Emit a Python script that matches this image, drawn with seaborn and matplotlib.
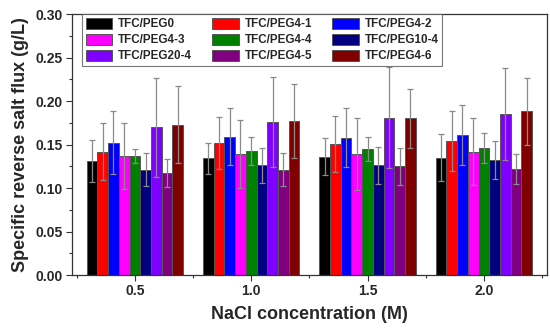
import pandas as pd
import matplotlib.pyplot as plt
import seaborn as sns
from matplotlib.ticker import MultipleLocator, AutoMinorLocator
from matplotlib.patches import Patch

# NaCl concentration (M)
conc = ['0.5', '1.0', '1.5', '2.0']
membranes = ['TFC/PEG0', 'TFC/PEG4-1', 'TFC/PEG4-2', 'TFC/PEG4-3', 'TFC/PEG4-4',
             'TFC/PEG10-4', 'TFC/PEG20-4', 'TFC/PEG4-5', 'TFC/PEG4-6']
colors = ['#000000', '#ff0000', '#0000ff', '#ff00ff', '#008000',
          '#000080', '#8000ff', '#800080', '#800000']

# specific reverse salt flux (g/L), one list per membrane, over conc
flux = {
    'TFC/PEG0':    [0.131, 0.134, 0.136, 0.135],
    'TFC/PEG4-1':  [0.142, 0.152, 0.151, 0.154],
    'TFC/PEG4-2':  [0.152, 0.159, 0.158, 0.161],
    'TFC/PEG4-3':  [0.137, 0.139, 0.139, 0.142],
    'TFC/PEG4-4':  [0.137, 0.143, 0.145, 0.146],
    'TFC/PEG10-4': [0.121, 0.126, 0.126, 0.132],
    'TFC/PEG20-4': [0.170, 0.176, 0.181, 0.185],
    'TFC/PEG4-5':  [0.117, 0.121, 0.125, 0.122],
    'TFC/PEG4-6':  [0.173, 0.177, 0.180, 0.188],
}
err = {
    'TFC/PEG0':    [0.024, 0.018, 0.021, 0.027],
    'TFC/PEG4-1':  [0.033, 0.030, 0.032, 0.034],
    'TFC/PEG4-2':  [0.036, 0.033, 0.034, 0.035],
    'TFC/PEG4-3':  [0.038, 0.039, 0.041, 0.039],
    'TFC/PEG4-4':  [0.008, 0.016, 0.014, 0.017],
    'TFC/PEG10-4': [0.019, 0.020, 0.021, 0.022],
    'TFC/PEG20-4': [0.057, 0.052, 0.058, 0.053],
    'TFC/PEG4-5':  [0.016, 0.019, 0.021, 0.017],
    'TFC/PEG4-6':  [0.044, 0.043, 0.034, 0.038],
}

rows = []
for m in membranes:
    for c, v in zip(conc, flux[m]):
        rows.append({'conc': c, 'membrane': m, 'flux': v})
df = pd.DataFrame(rows)

sns.set_style('ticks')
plt.rcParams['font.family'] = ['Liberation Sans', 'DejaVu Sans']
plt.rcParams['font.weight'] = 'bold'

fig = plt.figure(figsize=(5.5, 3.35), dpi=100)
ax = fig.add_axes([0.131, 0.179, 0.863, 0.779])

sns.barplot(data=df, x='conc', y='flux', hue='membrane', hue_order=membranes,
            palette=colors, width=0.83, errorbar=None, edgecolor='#555555',
            linewidth=0.7, saturation=1, legend=False, ax=ax)

# error bars on the bars seaborn drew (one container per membrane)
for m, cont in zip(membranes, ax.containers):
    xs = [b.get_x() + b.get_width() / 2 for b in cont]
    hs = [b.get_height() for b in cont]
    eb = ax.errorbar(xs, hs, yerr=err[m], fmt='none', ecolor='#8a8a8a',
                     elinewidth=0.9, capsize=2.2, capthick=0.9, zorder=3)
    for cap in eb[1]:
        cap.set_color('#333333')

ax.set_ylim(0, 0.30)
ax.set_xlim(-0.54, 3.54)
ax.yaxis.set_major_locator(MultipleLocator(0.05))
ax.yaxis.set_minor_locator(AutoMinorLocator(2))
ax.set_xticks([-0.5, 0.5, 1.5, 2.5, 3.5], minor=True)
ax.yaxis.set_major_formatter(plt.FormatStrFormatter('%.2f'))
ax.tick_params(axis='both', which='both', direction='out', color='#333333', width=0.8)
ax.tick_params(axis='both', which='major', length=4, labelsize=10, pad=2.5)
ax.tick_params(axis='both', which='minor', length=2.2)
for lab in ax.get_xticklabels() + ax.get_yticklabels():
    lab.set_fontweight('bold')
for s in ax.spines.values():
    s.set_visible(True)
    s.set_color('#333333')
    s.set_linewidth(0.9)

ax.set_xlabel('NaCl concentration (M)', fontsize=13, fontweight='bold', labelpad=6)
ax.set_ylabel('Specific reverse salt flux (g/L)', fontsize=13, fontweight='bold', labelpad=5)

# legend filled row-wise like the original, matplotlib fills by column
order = [0, 3, 6, 1, 4, 7, 2, 5, 8]
handles = [Patch(facecolor=colors[i], edgecolor='#555555', linewidth=0.7) for i in order]
labels = [membranes[i] for i in order]
leg = ax.legend(handles, labels, ncol=3, loc='upper left', bbox_to_anchor=(0.021, 1.0),
                fontsize=8.4, frameon=True, fancybox=False, handlelength=2.3,
                handleheight=1.1, handletextpad=0.5, columnspacing=1.7,
                labelspacing=0.3, borderpad=0.3, borderaxespad=0)
leg.get_frame().set_edgecolor('#555555')
leg.get_frame().set_linewidth(0.8)
for t in leg.get_texts():
    t.set_fontweight('bold')

fig.savefig('out.png', dpi=100)
